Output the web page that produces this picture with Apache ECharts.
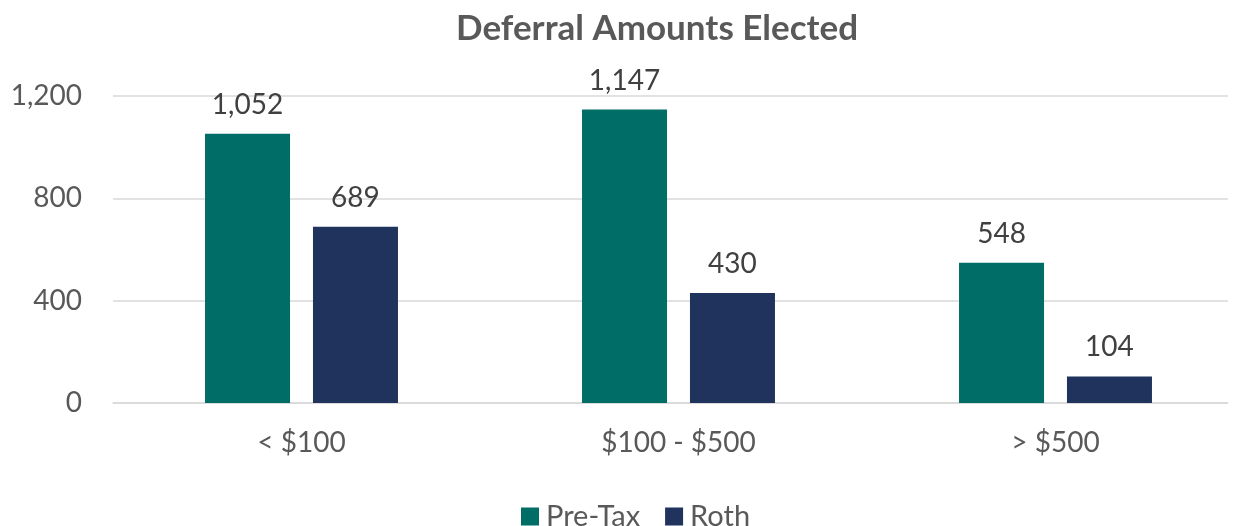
<!DOCTYPE html>
<html>
<head>
<meta charset="utf-8">
<script src="https://cdn.jsdelivr.net/npm/echarts@6/dist/echarts.min.js"></script>
<style>
  html, body { margin: 0; padding: 0; background: #fff; }
  #main { width: 1233px; height: 526px; }
</style>
</head>
<body>
<div id="main"></div>
<script>
var categories = ['< $100', '$100 - $500', '> $500'];
var preTax = [1052, 1147, 548];
var roth = [689, 430, 104];
var yTicks = [0, 400, 800, 1200];

var chart = echarts.init(document.getElementById('main'));

var fontFam = 'Lato, "Open Sans", sans-serif';

function fmt(v) { return v.toLocaleString('en-US'); }

var option = {
    animation: false,
    title: {
        text: 'Deferral Amounts Elected',
        left: 451,
        top: 6,
        textStyle: { color: '#595959', fontSize: 35, fontWeight: 'bold', fontFamily: fontFam }
    },
    legend: {
        top: 497,
        left: 516,
        itemWidth: 18,
        itemHeight: 18,
        itemGap: 25,
        icon: 'rect',
        textStyle: { color: '#595959', fontSize: 29, fontFamily: fontFam, padding: [0, 0, 0, 2] }
    },
    // plot runs a bit past the right edge, like the original
    grid: { left: 113, top: 96, width: 1131, height: 307, outerBoundsMode: 'none' },
    xAxis: {
        type: 'category',
        data: categories,
        axisTick: { show: false },
        axisLine: { lineStyle: { color: '#d9d9d9', width: 1.5 } },
        axisLabel: { color: '#595959', fontSize: 28, margin: 26, fontFamily: fontFam }
    },
    yAxis: {
        type: 'value',
        min: yTicks[0],
        max: yTicks[yTicks.length - 1],
        interval: 400,
        axisLine: { show: false },
        axisTick: { show: false },
        splitLine: { lineStyle: { color: '#d9d9d9', width: 1.5 } },
        axisLabel: { color: '#595959', fontSize: 28, margin: 31, fontFamily: fontFam, formatter: fmt }
    },
    graphic: [{
        type: 'rect', right: 0, top: 88, z: 100,
        shape: { width: 5, height: 320 },
        style: { fill: '#fff' }
    }],
    series: [
        {
            name: 'Pre-Tax',
            type: 'bar',
            data: preTax,
            barWidth: 85,
            barGap: '27%',
            itemStyle: { color: '#006d66' },
            label: {
                show: true, position: 'top', distance: 15,
                color: '#404040', fontSize: 28, fontFamily: fontFam,
                formatter: function (p) { return fmt(p.value); }
            }
        },
        {
            name: 'Roth',
            type: 'bar',
            data: roth,
            barWidth: 85,
            itemStyle: { color: '#1f335c' },
            label: {
                show: true, position: 'top', distance: 15,
                color: '#404040', fontSize: 28, fontFamily: fontFam,
                formatter: function (p) { return fmt(p.value); }
            }
        }
    ]
};

chart.setOption(option);
</script>
</body>
</html>
